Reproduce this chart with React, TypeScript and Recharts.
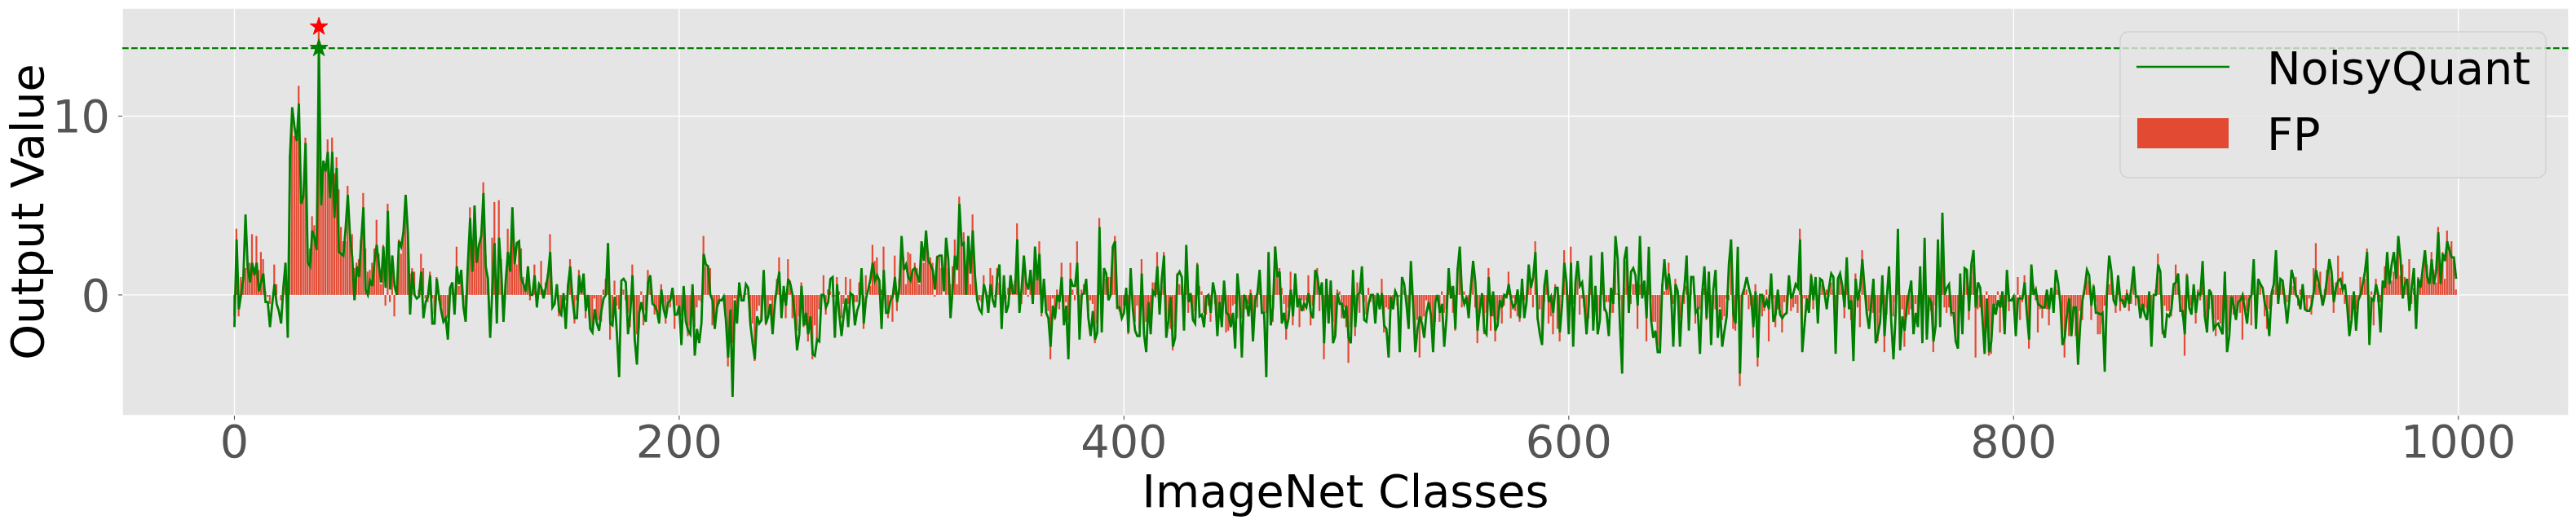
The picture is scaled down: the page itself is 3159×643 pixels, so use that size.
import React from "react"
import {
  ComposedChart,
  Bar,
  Line,
  XAxis,
  YAxis,
  CartesianGrid,
  ReferenceLine,
  ReferenceDot,
} from "recharts"

// output value per ImageNet class (index = class id)
const noisyQuant = [
  -1.8, 3.1, -0.8, 0.0, 0.9, 4.5, 1.5, 0.7, 1.8, 1.1,
  1.8, 0.2, 0.7, 1.2, -0.4, -0.4, -1.8, -0.5, 0.6, -0.5,
  -0.9, -1.6, 0.4, 1.8, -2.4, 7.8, 10.5, 9.4, 8.6, 10.7,
  5.1, 5.5, 8.5, 1.8, 1.6, 3.6, 3.2, 2.5, 13.8, 5.0,
  7.5, 6.9, 8.0, 5.4, 8.0, 4.3, 7.1, 2.4, 2.3, 2.2,
  3.7, 5.6, 3.3, 2.1, -0.3, 1.6, 1.0, 3.0, 4.9, 0.3,
  0.0, 0.8, 0.5, 1.9, 2.8, 1.6, 0.7, 2.7, 0.4, 4.7,
  0.3, 2.2, 0.5, 0.0, 3.0, 2.7, 3.5, 5.6, 3.5, -1.1,
  1.3, 0.0, -0.2, -0.1, 1.3, -1.3, -0.4, -0.1, 1.1, -1.6,
  -1.6, 0.9, -0.1, -0.9, -1.5, -1.3, -2.5, 0.4, 0.7, -1.1,
  1.6, 0.6, 1.4, -0.7, -1.5, 1.8, 4.3, 1.3, 5.0, 1.8,
  2.8, 3.3, 5.7, 1.6, 0.9, -2.4, 0.4, 2.9, -1.6, 3.2,
  1.3, -1.5, 0.8, 2.4, 1.3, 4.9, 1.7, 2.9, 3.0, 0.9,
  0.6, 0.2, 1.6, 0.0, 0.0, 1.1, -0.7, 0.6, 0.4, -0.2,
  0.4, 1.1, 2.4, -0.7, -0.5, 0.6, -0.9, -1.1, 0.1, -1.9,
  0.5, 1.6, -0.2, -1.3, -1.3, 1.1, 0.1, 1.2, -0.9, 0.0,
  -1.9, -2.1, -0.8, -1.6, -2.0, -0.9, -0.2, 0.0, 2.9, -1.6,
  -1.7, -0.1, -2.2, -4.6, 0.8, 0.9, 0.7, -2.2, -1.0, 1.1,
  -2.5, -3.9, -1.0, -0.4, -1.1, -1.5, 0.7, 1.1, -0.5, -0.6,
  -0.9, -1.6, 0.3, -0.8, -1.3, -0.4, -0.3, 0.4, -1.1, -1.1,
  -0.6, -2.8, 0.5, -1.5, -2.0, -2.2, 0.6, -3.4, -1.9, -2.7,
  -1.6, 2.3, 1.7, 1.6, 0.0, -0.3, -1.9, -0.7, -0.3, -0.3,
  -0.1, -1.4, -3.5, -0.8, -5.7, -0.3, -1.6, 0.7, -0.3, -0.3,
  0.6, 0.4, -1.6, -2.7, -3.6, -1.2, -1.6, -1.4, 1.4, -1.6,
  -1.2, -0.5, -2.2, -0.5, 0.5, 1.3, -1.3, 0.5, -0.6, 0.9,
  0.6, 0.0, -1.2, -3.1, -2.2, 0.5, -1.7, -1.0, -2.2, -1.2,
  -3.3, -3.4, -2.5, -2.6, 0.0, 0.0, -0.7, -0.4, 0.9, 1.0,
  -2.4, 0.6, -1.1, -2.3, -1.1, -0.2, -1.8, 0.1, 0.0, -1.7,
  -0.9, -0.5, 1.5, -1.6, -0.2, 0.3, 0.9, 1.8, 0.8, 1.1,
  0.8, -1.9, 1.4, -1.0, -1.0, -0.3, -0.1, 1.0, -0.4, 0.4,
  3.3, 1.4, 1.7, 1.0, 0.8, 1.4, 1.5, 1.1, 0.7, 3.0,
  1.9, 3.6, 1.9, 1.7, 1.4, 0.3, 2.1, 2.2, 2.2, 0.2,
  3.2, 2.0, -1.3, 0.4, 2.2, 1.4, 5.1, 2.8, 2.9, 0.0,
  3.3, 1.2, 3.6, 1.1, -0.3, -0.8, -1.0, 0.6, 0.1, -1.0,
  0.6, -0.3, -0.7, 1.0, 1.7, -1.9, 1.1, -1.0, -0.6, 1.1,
  0.1, 0.1, 3.1, -1.0, 0.4, 2.2, 0.7, 0.3, 1.4, -0.5,
  2.7, 0.8, 2.3, -1.0, 0.9, -1.0, -1.3, -2.9, -0.6, -1.3,
  0.0, -0.4, 1.0, -1.7, -0.6, -3.6, 0.9, 0.5, 0.5, 1.8,
  -2.5, 0.0, 0.1, 0.9, -1.3, -2.3, -0.9, -2.5, -2.1, 3.8,
  -2.1, 1.5, 1.2, -0.3, 0.0, 2.7, 3.0, -0.7, -0.7, -1.3,
  -1.0, 0.4, -2.1, 1.5, -0.8, -2.0, -2.3, -2.3, 1.2, -2.2,
  -3.2, -0.4, -2.2, 0.2, 0.0, 1.6, -1.1, 0.9, 2.2, -2.4,
  -1.4, -0.1, -2.9, -2.4, 1.1, 1.3, 1.0, -2.0, 2.8, -0.4,
  0.1, -1.4, -1.6, 1.7, -1.2, -1.1, -1.8, -0.1, 0.0, -1.0,
  0.7, 0.0, -2.3, -0.4, -1.8, 0.8, -1.0, -1.1, -1.8, -1.0,
  -3.0, 1.2, -0.2, -3.5, 0.0, -0.3, -1.2, 0.1, -2.6, -0.3,
  0.1, 1.4, -1.0, -1.0, -4.6, 2.4, -1.7, -0.7, 2.7, 1.0,
  1.3, -1.6, -1.0, -1.9, -1.3, 0.3, -1.2, 1.2, -0.7, -0.2,
  -0.9, -0.5, -0.7, 0.1, -1.0, -1.3, 1.4, 1.0, 0.0, 0.7,
  -2.7, 0.9, -1.6, 0.8, -2.7, -2.3, 0.1, -0.5, -0.5, -1.3,
  -0.6, -2.4, -2.7, 1.4, -1.8, 0.0, 0.1, 1.6, -1.4, -1.5,
  -0.5, 0.0, 0.0, -1.6, 0.1, -0.8, 0.1, -1.7, -1.9, -3.5,
  -0.1, -0.8, 0.2, -0.1, -3.2, 1.0, 0.6, -0.5, -1.9, 1.9,
  -0.5, -3.2, -1.9, -1.2, -1.6, -2.4, -1.0, -0.4, -1.1, -3.2,
  -0.4, 0.0, -1.0, -0.5, -2.9, -1.3, 1.5, -0.2, 0.5, -1.9,
  1.4, 2.7, 0.0, -0.5, -0.1, -1.3, 0.5, 1.9, 0.7, -2.0,
  -0.8, 0.1, -2.0, -2.2, 1.0, -1.2, 0.2, -2.0, -1.7, -0.3,
  -0.7, 0.0, -0.1, 0.6, -0.2, -0.7, -0.5, 0.3, -1.3, 0.9,
  -1.3, -0.4, 1.7, 0.4, 1.0, 2.4, -1.3, -2.2, -2.8, 0.5,
  1.4, -0.4, -0.1, -1.0, 0.4, 0.4, -2.1, -0.5, 1.8, 0.7,
  -2.2, 1.8, -2.9, 0.7, 1.9, 0.5, 0.7, -0.5, -2.2, -0.5,
  2.2, -2.0, 0.5, -2.2, -1.4, 2.4, -0.7, -1.0, -2.3, 0.4,
  -0.5, 3.3, 2.0, -1.7, -4.4, 2.0, 2.7, -1.0, 1.3, 1.5,
  1.1, -0.6, 3.3, -0.2, 0.8, -1.3, 2.7, -1.4, -2.4, -2.0,
  -3.2, -3.2, 0.4, 2.0, 0.3, 1.2, 0.1, -2.9, 0.6, 0.2,
  -2.9, -0.5, 0.4, 2.2, -2.0, 1.0, 1.0, -1.0, -0.8, -3.3,
  0.1, 1.6, -1.3, 1.3, -2.8, 0.3, 1.4, -2.4, -0.8, -2.9,
  -2.0, -1.2, 1.7, 3.1, -1.1, -1.6, 2.7, -4.4, 0.0, 0.4,
  1.0, 0.4, -0.1, -1.8, 0.2, -3.5, 0.0, 0.0, -0.7, -0.3,
  -0.8, 1.2, -1.5, -1.1, 0.3, -1.1, -1.3, -1.1, -1.0, 1.1,
  -0.2, 0.1, 0.6, 0.4, 3.1, -3.2, -1.7, -0.2, -1.0, 1.1,
  -0.3, 1.0, -1.6, 0.9, 0.8, 0.1, -0.8, 0.4, 1.2, 1.0,
  -3.3, 0.9, 1.2, 0.5, -0.7, 2.1, -0.8, -0.3, -3.7, 0.9,
  -0.3, 0.4, 2.0, 0.4, -1.0, -1.9, -0.5, 0.9, -2.7, -2.2,
  -1.5, 1.1, -2.3, -0.2, 1.6, -1.5, -3.6, -1.0, 3.7, -3.1,
  -1.2, -2.0, -0.6, 0.1, 0.8, -2.2, -1.0, -1.8, 1.6, -2.7,
  3.2, -2.5, -0.2, -0.4, -2.6, -1.7, 3.1, -1.8, 4.6, 0.0,
  0.4, 0.6, -1.0, -1.0, -2.6, -3.0, 1.2, -2.2, 1.5, 1.4,
  -0.9, 1.7, 2.5, -0.7, 0.7, 0.4, -1.3, -3.3, -0.2, -3.2,
  -2.6, -0.5, -1.1, -0.3, -0.7, 0.2, -2.2, 1.4, -0.3, -0.3,
  -0.1, -2.3, -0.2, -0.2, -0.2, 0.7, -1.1, -2.5, 1.7, 0.0,
  0.3, -0.5, -0.6, -0.7, -0.7, 0.3, -0.8, 0.4, -1.0, 1.4,
  0.7, -0.4, -2.8, -2.4, -1.1, -0.2, -2.3, -0.7, -0.7, -3.9,
  -1.6, -0.3, 0.4, 1.4, 1.1, -0.6, 0.5, -1.0, -1.0, -1.1,
  -1.0, -4.3, 0.2, 2.2, 1.3, -0.3, -0.6, 1.1, -0.3, -0.3,
  -0.7, 0.1, -0.5, 0.4, 1.6, -0.1, -0.1, -1.3, -0.5, -1.1,
  -1.4, 0.2, -2.9, 0.0, 0.0, 1.7, 1.3, -1.9, -2.4, -1.1,
  -1.2, -0.8, 0.6, 0.7, 1.2, -0.9, -0.9, -2.2, 1.1, -0.7,
  -1.1, 0.6, -1.0, 0.1, 0.0, 1.9, -1.2, -2.1, 0.3, 0.0,
  -1.9, -1.7, -1.6, -1.9, -2.2, 1.3, -3.2, -2.3, -0.1, -0.6,
  -1.4, -0.4, -0.3, 0.0, -0.8, -1.6, -0.2, 0.0, 2.0, -1.9,
  0.9, 0.6, 0.4, -0.5, -0.9, -2.3, 0.1, 0.6, 2.5, -0.5,
  0.9, 0.8, -0.3, -1.6, -0.3, 1.4, 0.9, 0.0, -0.2, -0.8,
  0.6, -0.8, -0.9, -0.9, -0.6, 0.2, 1.4, 0.8, 0.2, -0.6,
  0.0, 1.0, 2.0, 1.3, -0.4, 0.4, 0.8, 0.9, 0.3, 0.6,
  -0.6, -2.3, -1.4, 0.2, -2.0, -0.3, 0.0, 0.6, 1.3, 2.4,
  -2.8, -0.2, -0.3, 0.6, 0.0, -2.1, 0.8, 0.4, 2.4, 0.6,
  1.7, 2.4, 0.9, 3.3, 2.0, -0.2, 0.6, 0.9, -0.9, 0.4,
  1.5, -1.9, 0.9, 0.4, 1.5, 2.5, 1.0, 0.6, 2.0, 0.6,
  1.3, 3.5, 0.6, 2.3, 1.9, 3.0, 2.5, 2.1, 2.1, 0.9,
]

const fp = [
  -1.2, 3.7, -1.2, 1.0, 1.0, 1.5, 1.8, 1.8, 3.4, 1.3,
  3.3, 1.4, 2.4, 2.0, 0.2, -0.1, -0.5, 0.0, 1.7, 0.6,
  0.0, -0.3, 0.4, 1.8, -0.2, 7.8, 10.3, 8.9, 8.6, 11.7,
  5.1, 5.5, 8.8, 1.8, 2.6, 4.4, 3.9, 2.6, 15.0, 5.0,
  7.5, 6.9, 8.7, 5.4, 8.8, 6.8, 7.7, 5.9, 3.8, 3.0,
  3.0, 6.1, 3.3, 3.4, 1.5, 1.8, 2.0, 3.1, 5.7, 2.6,
  1.3, 1.4, 1.8, 2.6, 4.2, 2.3, 0.6, 2.8, -0.6, 5.1,
  -0.4, 2.2, -1.2, 0.0, 3.1, 2.3, 3.5, 5.6, 3.9, 1.2,
  1.5, 1.3, 0.0, 0.3, 2.3, 1.5, -0.2, -0.4, 1.3, -0.2,
  -1.1, 1.0, -0.3, -0.6, -1.5, -1.3, -1.3, 0.4, 0.4, 0.0,
  2.7, 0.5, 1.3, 0.0, -1.5, 1.5, 4.9, 1.6, 5.0, 2.1,
  2.8, 3.3, 6.3, 2.2, 1.0, 0.0, 3.2, 5.2, -1.0, 5.3,
  2.0, -1.0, 0.6, 3.7, 1.6, 4.6, 1.7, 1.7, 3.0, 2.6,
  1.0, 0.3, 1.6, -0.3, 0.0, 1.7, -0.2, 0.6, 1.9, 0.3,
  0.7, 1.2, 3.4, -0.1, 0.0, 0.2, -1.2, -1.2, -0.3, -0.3,
  0.6, 2.0, -0.2, -1.6, -0.3, 1.4, 0.2, 1.1, -1.3, -0.3,
  -1.6, -2.0, -0.2, -1.6, -1.4, -1.5, 0.3, 0.9, 2.9, -2.5,
  -1.3, 0.8, -0.6, -0.8, 0.4, 0.3, -0.3, -1.0, -1.8, 1.7,
  -2.6, -2.2, -1.9, 0.2, -1.7, -0.9, 1.4, 1.0, -0.4, -1.1,
  -0.9, -1.1, 0.6, -0.4, -1.6, -0.3, -0.7, -0.2, -1.9, -0.6,
  -0.6, -1.2, -0.7, -1.2, -2.3, -1.7, -0.2, -1.8, -0.7, -0.3,
  -0.4, 3.3, 1.6, 1.5, 1.5, -1.7, -1.4, -1.0, -0.5, 0.0,
  -0.2, -1.2, -4.0, -0.8, -2.7, -0.2, -1.0, 0.2, -0.1, -0.2,
  0.1, 0.0, -1.5, -1.6, -3.7, -0.9, -0.6, -1.5, 0.0, -1.7,
  -1.2, -0.3, -1.5, -0.4, 0.9, 2.1, -0.9, -0.4, -1.3, 2.0,
  0.8, -1.3, -1.2, -2.0, -1.2, 0.7, -1.8, -1.7, -2.6, -1.8,
  -3.6, -1.7, -2.5, -0.8, 0.0, 1.1, -1.1, 0.3, 0.2, -0.1,
  -0.1, 1.0, 0.2, -1.3, -0.5, 1.0, -0.5, 0.9, 0.0, -0.4,
  -0.4, 0.7, 1.2, -1.9, 1.1, 0.0, 0.5, 2.8, 1.9, 2.1,
  0.5, 0.3, 2.7, -0.6, -1.3, -0.2, -1.5, 2.2, -0.9, 0.9,
  2.4, 2.1, 0.6, 2.4, 2.3, 1.4, 1.8, 1.5, 0.6, 3.0,
  1.8, 2.8, 2.4, 2.1, 1.8, -0.1, 2.2, 2.1, 1.5, 0.0,
  2.5, 1.5, 0.6, 1.6, 3.1, 0.6, 5.5, 3.0, 3.5, 0.6,
  2.4, 0.6, 4.5, 1.1, -0.3, -0.3, -0.4, 1.1, 0.0, -0.2,
  1.5, 1.1, -0.1, 1.5, 0.7, -1.5, 0.6, -0.2, 0.4, 0.7,
  0.6, 0.8, 4.0, -0.5, -0.5, 1.8, 0.8, -0.1, 1.4, -0.2,
  2.0, 0.8, 3.0, -1.2, 0.8, -0.7, -0.9, -3.6, -0.2, -1.4,
  0.3, -0.8, 1.8, -1.5, -0.4, -1.4, 1.8, 0.3, -0.3, 3.0,
  -0.9, 0.3, 0.6, 0.6, -0.9, -0.3, -0.5, -2.7, -1.6, 4.3,
  -1.3, 1.3, 0.9, 1.0, 1.0, 2.7, 3.3, -0.8, -0.9, -1.2,
  -0.6, -0.3, -2.2, 1.1, -0.5, -1.5, -0.6, -1.9, 2.0, -1.7,
  -1.5, -0.8, -1.4, 0.7, 0.7, 2.4, -0.7, 0.5, 2.4, -1.5,
  -1.3, -1.9, -3.1, -1.8, 1.2, 0.6, 0.5, -1.8, 2.3, -1.0,
  -0.4, -1.2, -0.9, 1.8, 0.5, 0.2, -1.0, -1.1, -0.6, -1.5,
  0.0, -0.5, -1.5, -0.9, -1.1, 0.3, -2.1, -2.0, -1.4, -0.6,
  -0.5, -1.3, -0.4, -1.3, -0.8, -0.8, -0.5, 0.3, -1.5, -0.3,
  -0.7, 0.7, -0.9, -1.0, -1.0, 2.0, -0.4, -1.5, 2.7, 1.1,
  1.5, 0.4, -0.5, -2.5, -0.7, 1.3, -1.7, 1.0, -0.5, -1.8,
  -0.3, -0.9, -0.3, 1.1, -1.7, -0.6, 1.0, 1.5, -0.9, 0.2,
  -3.6, 0.4, -0.7, 0.8, -1.5, -2.2, 0.3, 0.2, -1.3, -0.7,
  -1.8, -3.8, -1.8, 0.6, -2.3, 0.7, -1.0, 0.6, -0.4, -1.1,
  0.4, -0.4, -0.2, -1.0, -0.5, -0.3, 0.9, -2.1, -0.7, -0.8,
  -0.9, -0.3, 0.3, -0.6, -0.1, 0.2, 0.3, -0.3, -1.0, 0.7,
  -0.3, -2.3, -1.4, -3.5, -1.4, -1.2, -0.3, -0.5, -1.1, -1.8,
  -1.5, -0.3, -1.5, 0.2, -1.0, -0.8, 0.6, 0.5, -1.0, -2.0,
  1.5, 2.2, -0.7, 0.2, -0.5, -0.8, 0.0, 1.4, -0.7, -2.7,
  -1.0, -0.3, -2.2, -1.0, 1.5, -2.0, -1.2, -2.6, -1.4, -0.8,
  -1.6, -0.6, -0.2, 1.3, -1.3, -0.2, -0.9, -1.2, -1.5, 0.3,
  -0.3, -0.6, 1.4, 0.5, -0.7, 3.0, -1.4, -0.8, -2.6, -0.4,
  1.0, -1.6, -1.2, -2.2, 0.6, -1.9, -2.6, -0.1, 2.5, 0.8,
  -0.8, 2.7, -0.5, 0.0, 1.2, -1.1, -0.2, -0.7, -2.2, -1.3,
  2.1, -1.0, 0.5, -1.5, -0.9, 2.3, -0.9, -0.4, -0.4, -1.0,
  -1.0, 1.9, 0.1, -0.3, -2.2, 0.4, 1.9, -1.0, -0.5, 0.6,
  0.6, -1.9, 0.6, 0.4, 0.6, -2.6, 1.0, -0.2, -1.5, -1.5,
  -2.8, -2.9, 0.6, 0.2, 0.6, 1.8, 0.1, -0.5, 0.9, 0.0,
  -1.3, -0.8, -0.5, 0.5, -1.2, 0.3, 0.0, -1.6, -0.8, -0.8,
  -0.2, 0.4, -1.4, -0.2, -2.7, 0.0, -0.8, -1.3, -0.7, -1.4,
  -1.2, -0.2, -0.3, 3.1, -1.9, -2.0, 0.6, -5.1, -0.3, 0.3,
  0.3, -0.8, -0.6, -2.4, 0.6, -4.0, -0.4, -1.2, -0.9, 0.3,
  -2.6, 0.5, -0.2, -1.8, -0.8, -0.7, -2.1, -0.4, -1.1, 0.2,
  -0.9, -0.7, -0.5, -1.0, 3.7, -1.6, -0.2, -0.9, -0.8, 1.2,
  -0.8, 0.6, -0.6, 0.1, 0.6, 0.1, 0.3, -0.1, 0.7, 0.3,
  -1.2, 0.3, 1.2, 0.6, -1.3, 1.5, -0.6, -1.4, -2.9, 1.2,
  -0.7, -1.8, 2.5, 0.6, -1.1, -0.9, -1.0, -1.0, -1.6, -2.6,
  -1.0, 0.9, -3.2, -1.1, 0.0, -1.2, -1.2, -0.4, 1.3, -2.9,
  -0.8, -2.9, -1.2, -1.1, -0.8, -1.8, -0.5, -1.7, -0.2, -2.5,
  0.8, -2.2, -0.6, -0.9, -3.2, -0.6, 2.3, -0.7, 4.0, -0.7,
  -1.0, -0.7, -1.2, -0.9, -2.2, -2.8, 0.3, -1.6, 0.8, 1.4,
  -1.4, 1.0, 1.7, -3.5, -0.8, -0.7, -1.1, -2.6, 0.2, -3.4,
  -3.3, -1.1, -0.6, 0.2, -2.1, -0.7, -1.7, 0.8, -0.9, 0.0,
  -0.1, -1.2, 1.0, -1.4, -0.4, 1.1, -1.0, -3.0, 0.6, 0.6,
  -0.3, -2.1, -0.8, -1.3, -0.6, -0.8, -1.7, 0.2, -0.3, 0.5,
  0.3, -0.2, -2.3, -3.5, -1.0, -2.3, -2.3, -1.0, -2.3, -3.9,
  -0.9, -1.4, 0.5, 1.5, 0.8, -1.4, 0.6, -0.4, -2.2, -2.2,
  -1.6, -0.6, 0.1, 0.6, 1.3, -0.3, -1.0, 0.5, -0.9, -0.5,
  -0.4, 0.3, -0.9, -0.5, 1.2, -0.6, -0.2, -0.8, -0.9, -0.7,
  -0.8, -0.3, -1.6, -0.6, 0.3, 2.3, 1.0, -2.2, -0.6, -0.9,
  -0.9, -1.2, 0.3, 1.7, 0.9, -0.3, -1.2, -3.4, 1.2, -0.5,
  -0.6, 0.2, -1.6, 0.3, -0.3, 1.5, -0.6, -1.4, -0.8, 0.2,
  -1.3, -2.3, -1.4, -1.6, -1.9, 0.0, -2.2, -2.0, -0.8, -1.1,
  -1.2, -0.5, -1.0, -2.5, -0.3, -0.9, -0.1, -1.7, 1.4, -0.3,
  0.4, 0.6, 0.0, -1.2, -1.9, -0.8, -0.6, 0.3, 1.6, 0.0,
  0.8, 0.6, -0.5, -0.4, -0.2, 0.8, 0.5, 1.0, -0.6, 0.3,
  0.3, -0.3, -0.9, -0.2, -1.1, 1.5, 2.9, 0.6, 1.3, -0.2,
  0.3, 1.4, 1.6, 1.0, -1.0, 0.7, 2.2, 0.4, 1.3, -0.5,
  -0.4, -1.6, -1.3, -0.4, -0.8, -0.5, 1.0, 0.5, 0.9, 2.6,
  -1.0, 0.2, -1.7, 0.9, -0.4, -0.4, 0.5, 1.6, 2.1, 0.7,
  0.8, 1.3, 1.6, 2.9, 1.1, 1.7, 1.0, 0.9, 2.0, -0.5,
  0.4, -0.4, 1.0, 0.5, 1.2, 2.5, 1.7, 0.6, 2.4, 1.4,
  0.7, 3.8, 1.6, 2.4, 0.9, 3.6, 2.7, 3.0, 1.9, 0.3,
]

const xTicks = [0, 200, 400, 600, 800, 1000]
const yTicks = [0, 10]
const peakClass = 38

const W = 3159
const H = 643
const FONT = "DejaVu Sans"
const FS = 55.6

const Star = ({ cx, cy, fill }: { cx: number; cy: number; fill: string }) => {
  const pts: string[] = []
  for (let i = 0; i < 10; i++) {
    const r = i % 2 === 0 ? 11.5 : 4.4
    const a = -Math.PI / 2 + (i * Math.PI) / 5
    pts.push(`${cx + r * Math.cos(a)},${cy + r * Math.sin(a)}`)
  }
  return <polygon points={pts.join(" ")} fill={fill} stroke={fill} strokeWidth={1} />
}

export default function App() {
  const data = noisyQuant.map((v, i) => ({ cls: i, nq: v, fp: fp[i] }))
  const tickStyle = { fill: "#555555", fontSize: FS, fontFamily: FONT }

  return (
    <div style={{ position: "absolute", left: 0, top: 0, width: W, height: H, background: "#fff" }}>
      <ComposedChart width={W} height={H} data={data} margin={{ top: 10, right: 9, bottom: 0, left: 0 }}>
        <CartesianGrid fill="#E5E5E5" stroke="#ffffff" strokeWidth={1.4} />
        <XAxis
          type="number"
          dataKey="cls"
          domain={[-50.4, 1049.6]}
          ticks={xTicks}
          allowDataOverflow
          interval={0}
          height={133}
          axisLine={false}
          tickLine={{ stroke: "#555555", strokeWidth: 1.1 }}
          tickSize={5}
          tickMargin={7}
          tick={tickStyle}
        />
        <YAxis
          type="number"
          domain={[-6.75, 16.04]}
          ticks={yTicks}
          allowDataOverflow
          interval={0}
          width={150}
          axisLine={false}
          tickLine={{ stroke: "#555555", strokeWidth: 1.1 }}
          tickSize={5}
          tickMargin={10}
          tick={tickStyle}
        />
        <ReferenceLine y={noisyQuant[peakClass]} stroke="#008000" strokeWidth={2.1} strokeDasharray="7.7 3.3" />
        <Bar dataKey="fp" fill="#E24A33" barSize={2.2} isAnimationActive={false} />
        <Line
          dataKey="nq"
          type="linear"
          stroke="#008000"
          strokeWidth={2.8}
          dot={false}
          activeDot={false}
          isAnimationActive={false}
        />
        <ReferenceDot
          x={peakClass}
          y={fp[peakClass]}
          r={11}
          shape={(p: any) => <Star cx={p.cx} cy={p.cy} fill="#ff0000" />}
        />
        <ReferenceDot
          x={peakClass}
          y={noisyQuant[peakClass]}
          r={11}
          shape={(p: any) => <Star cx={p.cx} cy={p.cy} fill="#008000" />}
        />
      </ComposedChart>

      <svg
        width={W}
        height={H}
        style={{ position: "absolute", left: 0, top: 0, pointerEvents: "none" }}
        fontFamily={FONT}
      >
        <text x={1650} y={621.7} textAnchor="middle" fontSize={FS} fill="#000">
          ImageNet Classes
        </text>
        <text x={53} y={260} textAnchor="middle" fontSize={FS} fill="#000" transform="rotate(-90 53 260)">
          Output Value
        </text>

        <rect
          x={2600}
          y={39}
          width={522}
          height={179}
          rx={10}
          fill="#E5E5E5"
          fillOpacity={0.8}
          stroke="#CCCCCC"
          strokeOpacity={0.8}
          strokeWidth={1.4}
        />
        <line x1={2620} y1={82} x2={2734} y2={82} stroke="#008000" strokeWidth={2.6} />
        <text x={2780} y={103} fontSize={FS} fill="#000">
          NoisyQuant
        </text>
        <rect x={2621} y={145} width={112} height={37} fill="#E24A33" />
        <text x={2780} y={184.4} fontSize={FS} fill="#000">
          FP
        </text>
      </svg>
    </div>
  )
}
